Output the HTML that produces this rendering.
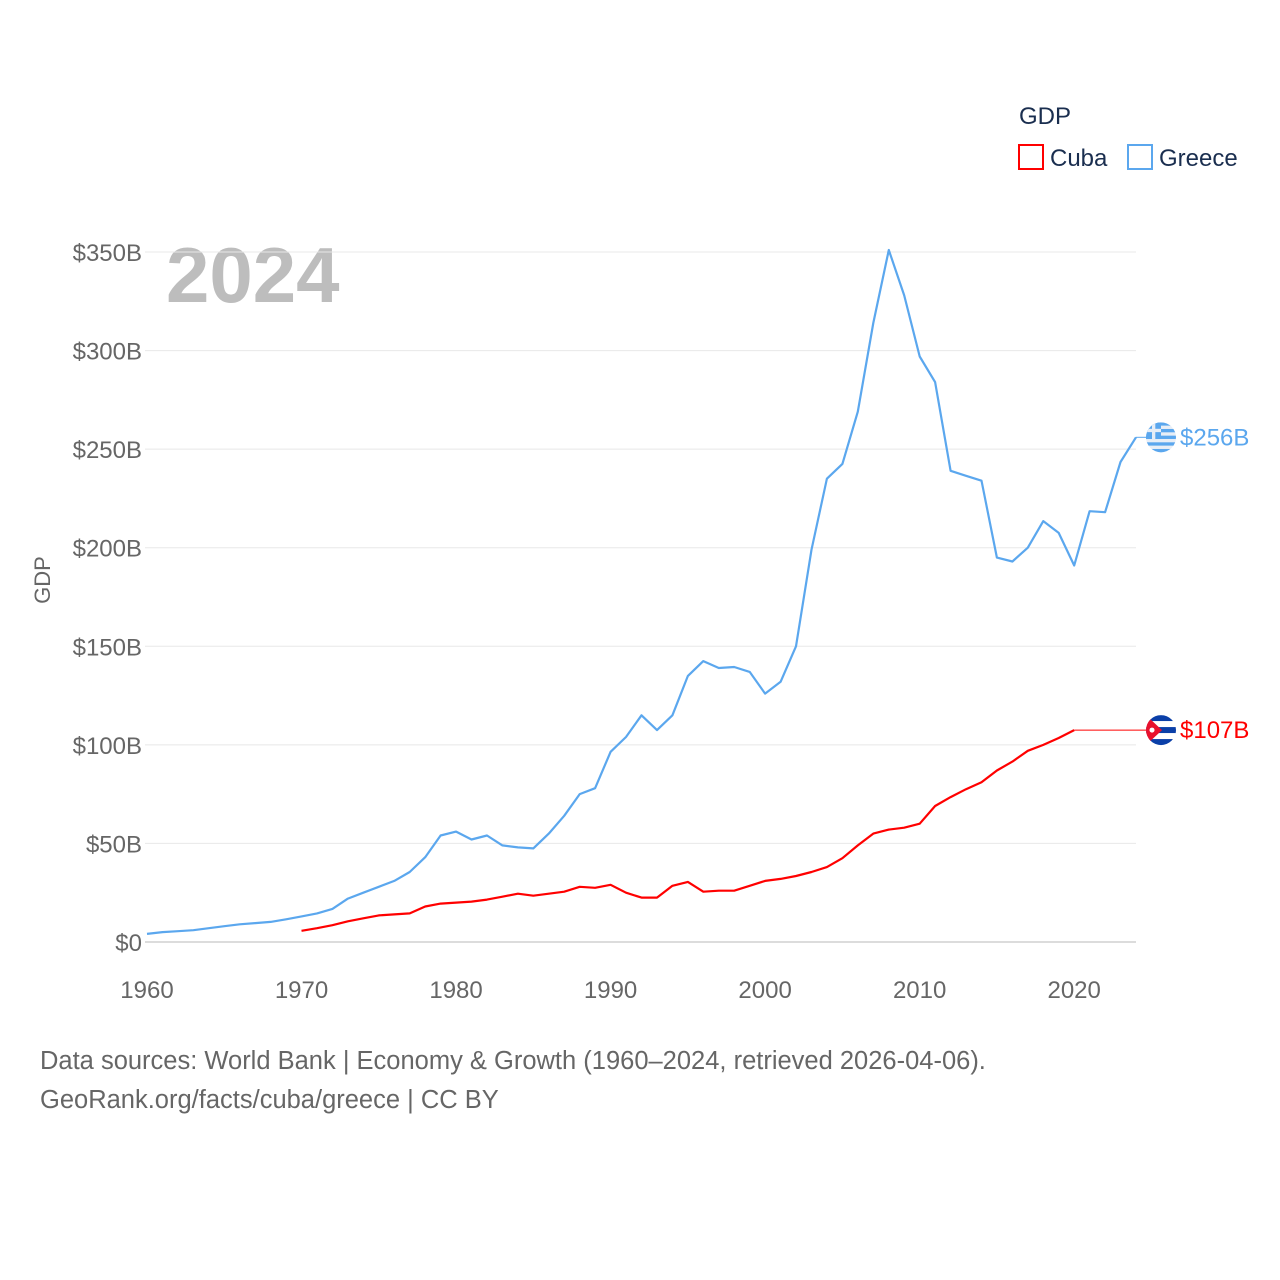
<!DOCTYPE html>
<html><head><meta charset="utf-8"><style>
html,body{margin:0;padding:0;background:#fff;}
svg{display:block;font-family:"Liberation Sans",sans-serif;}
</style></head><body>
<svg id="chart" width="1280" height="1280" viewBox="0 0 1280 1280">
  <text x="1019" y="124" font-size="24" fill="#1a2e4f">GDP</text>
  <g>
    <rect x="1019" y="145" width="24" height="24" fill="none" stroke="#ff0000" stroke-width="2"/>
    <text x="1050" y="166" font-size="24" fill="#1a2e4f">Cuba</text>
  </g>
  <g>
    <rect x="1128" y="145" width="24" height="24" fill="none" stroke="#5ba7ee" stroke-width="2"/>
    <text x="1159" y="166" font-size="24" fill="#1a2e4f">Greece</text>
  </g>
  <text x="166" y="302" font-size="78" font-weight="bold" fill="#bdbdbd">2024</text>
  <text transform="translate(50,580) rotate(-90)" text-anchor="middle" font-size="22" fill="#666">GDP</text>
  <g id="grid"></g>
  <g id="yticks"></g>
  <g id="xticks"></g>
  <g id="series"></g>
  <text x="40" y="1069" font-size="25.5" fill="#666">Data sources: World Bank | Economy &amp; Growth (1960–2024, retrieved 2026-04-06).</text>
  <text x="40" y="1108" font-size="25.5" fill="#666">GeoRank.org/facts/cuba/greece | CC BY</text>
</svg>
<script>
const yTicks = [0, 50, 100, 150, 200, 250, 300, 350];
const yTickLabels = ["$0", "$50B", "$100B", "$150B", "$200B", "$250B", "$300B", "$350B"];
const xTicks = [1960, 1970, 1980, 1990, 2000, 2010, 2020];
const greeceStart = 1960;
const greeceValues = [4.1,5,5.5,6,7,8,9,9.6,10.2,11.5,13,14.5,16.8,22,25,28,31,35.5,43,54,56,52,54,49,48,47.5,55,64,75,78,96.5,104,115,107.5,115,135,142.5,139,139.5,137,126,132,150,199,235,242.5,269,314,351,328,297,284,239,236.5,234,195,193,200,213.5,207.5,191,218.5,218,243.5,256];
const cubaStart = 1970;
const cubaValues = [5.7,7,8.5,10.5,12,13.5,14,14.5,18,19.5,20,20.5,21.5,23,24.5,23.5,24.5,25.5,28,27.5,29,25,22.5,22.5,28.5,30.5,25.5,26,26,28.5,31,32,33.5,35.5,38,42.5,49,55,57,58,60,69,73.5,77.5,81,87,91.5,97,100,103.5,107.5];
const greeceLabel = "$256B";
const cubaLabel = "$107B";

const NS = "http://www.w3.org/2000/svg";
const X0 = 147, X1 = 1136, Y0 = 942, Y1 = 252;
function xScale(yr){ return X0 + (yr - 1960) * (X1 - X0) / 64; }
function yScale(v){ return Y0 - v * (Y0 - Y1) / 350; }
function mk(tag, attrs, parent){ const e = document.createElementNS(NS, tag); for (const k in attrs) e.setAttribute(k, attrs[k]); parent.appendChild(e); return e; }

const grid = document.getElementById('grid'), yt = document.getElementById('yticks'), xt = document.getElementById('xticks'), ser = document.getElementById('series');
yTicks.forEach((v, i) => {
  const l = mk('line', {x1: X0 - 2, x2: X1, y1: yScale(v), y2: yScale(v), stroke: i === 0 ? '#dcdcdc' : '#e8e8e8', 'stroke-width': i === 0 ? 2 : 1}, grid);
  
  
  const t = mk('text', {x: 142, y: yScale(v) + 9, 'text-anchor': 'end', 'font-size': 24, fill: '#666'}, yt);
  t.textContent = yTickLabels[i];
  
  
});
xTicks.forEach(yr => {
  const t = mk('text', {x: xScale(yr), y: 998, 'text-anchor': 'middle', 'font-size': 24, fill: '#666'}, xt);
  t.textContent = String(yr);
  
  
});

function pts(start, vals){ return vals.map((v, i) => xScale(start + i).toFixed(1) + ',' + yScale(v).toFixed(1)).join(' '); }
const gl = mk('polyline', {points: pts(greeceStart, greeceValues), fill: 'none', stroke: '#5ba7ee', 'stroke-width': 2.2, 'stroke-linejoin': 'round'}, ser);


const cl = mk('polyline', {points: pts(cubaStart, cubaValues), fill: 'none', stroke: '#ff0000', 'stroke-width': 2.2, 'stroke-linejoin': 'round'}, ser);



const gLast = greeceValues[greeceValues.length - 1], cLast = cubaValues[cubaValues.length - 1];
const cLastX = xScale(cubaStart + cubaValues.length - 1);
const gLastX = xScale(greeceStart + greeceValues.length - 1);
const cc = mk('line', {x1: cLastX, x2: 1148, y1: yScale(cLast), y2: yScale(cLast), stroke: '#ff0000', 'stroke-width': 1}, ser);


const gc = mk('line', {x1: gLastX, x2: 1148, y1: yScale(gLast), y2: yScale(gLast), stroke: '#5ba7ee', 'stroke-width': 1}, ser);



const gy = yScale(gLast), gfx = 1161;
const gf = mk('g', {}, ser);


const gclip = mk('clipPath', {id: 'gclip'}, gf);
mk('circle', {cx: gfx, cy: gy, r: 15}, gclip);
const gInner = mk('g', {'clip-path': 'url(#gclip)'}, gf);
for (let i = 0; i < 9; i++) mk('rect', {x: gfx - 15, y: gy - 15 + i * 30 / 9, width: 30, height: 30 / 9 + 0.3, fill: i % 2 ? '#e8eef6' : '#5ba7ee'}, gInner);
mk('rect', {x: gfx - 15, y: gy - 15, width: 15, height: 16.7, fill: '#5ba7ee'}, gInner);
mk('rect', {x: gfx - 15, y: gy - 8.5, width: 15, height: 3.3, fill: '#e8eef6'}, gInner);
mk('rect', {x: gfx - 9, y: gy - 15, width: 3.3, height: 16.7, fill: '#e8eef6'}, gInner);
const gt = mk('text', {x: 1180, y: gy + 8, 'font-size': 24, fill: '#5ba7ee'}, ser);
gt.textContent = greeceLabel;



const cy = yScale(cLast), cfx = 1161;
const cf = mk('g', {}, ser);


const cclip = mk('clipPath', {id: 'cclip'}, cf);
mk('circle', {cx: cfx, cy: cy, r: 15}, cclip);
const cInner = mk('g', {'clip-path': 'url(#cclip)'}, cf);
for (let i = 0; i < 5; i++) mk('rect', {x: cfx - 15, y: cy - 15 + i * 6, width: 30, height: 6.3, fill: i % 2 ? '#ffffff' : '#0a3fa8'}, cInner);
mk('polygon', {points: (cfx - 15) + ',' + (cy - 15) + ' ' + (cfx + 1) + ',' + cy + ' ' + (cfx - 15) + ',' + (cy + 15), fill: '#e8112d'}, cInner);
mk('circle', {cx: cfx - 9, cy: cy, r: 2.5, fill: '#fff'}, cInner);
const ct = mk('text', {x: 1180, y: cy + 8, 'font-size': 24, fill: '#ff0000'}, ser);
ct.textContent = cubaLabel;


</script>
</body></html>
